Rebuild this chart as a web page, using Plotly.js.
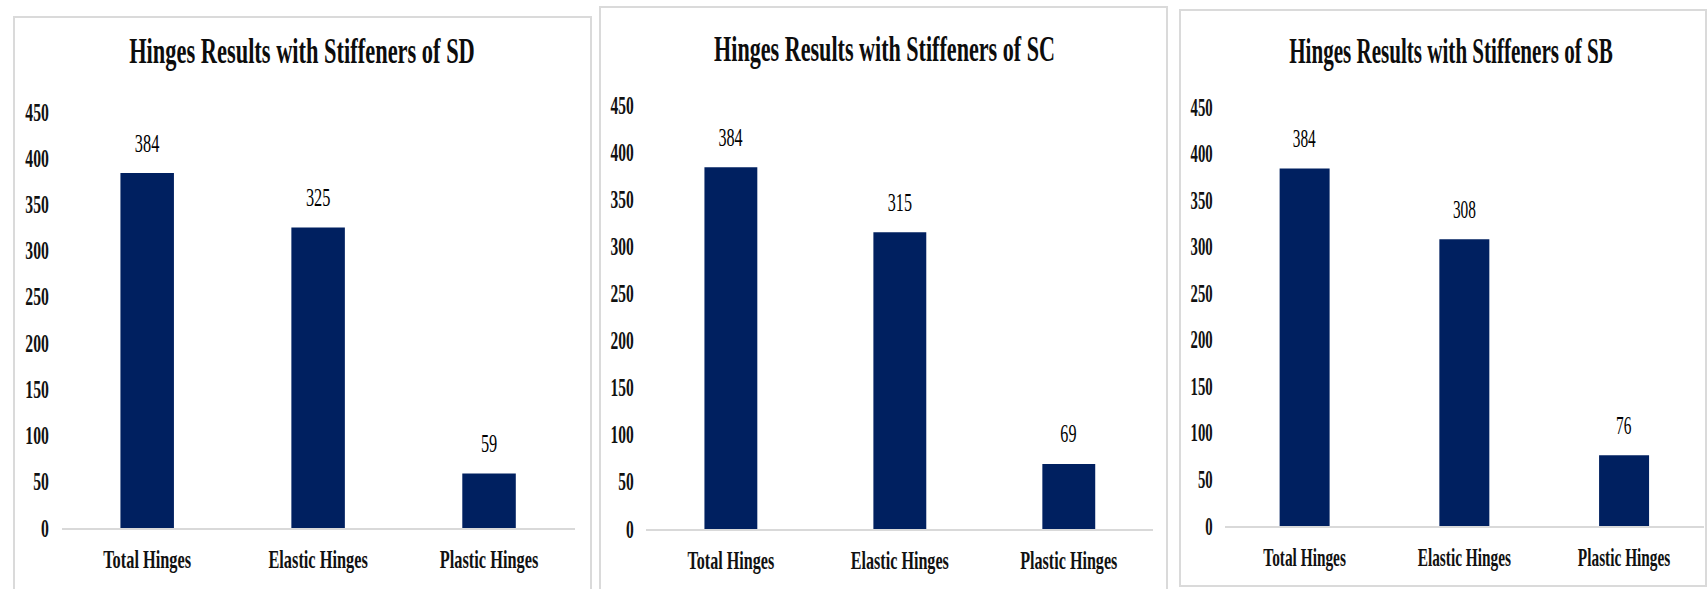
<!DOCTYPE html>
<html>
<head>
<meta charset="utf-8">
<script src="https://cdn.plot.ly/plotly-3.0.1.min.js"></script>
<style>
  html, body { margin: 0; padding: 0; background: #ffffff; overflow: hidden; width: 1707px; height: 589px; }
  .panel { position: absolute; transform-origin: 0 0; }
  .frame { position: absolute; box-sizing: border-box; border: 2px solid #dadada; pointer-events: none; }
</style>
</head>
<body>
<script>
// Hinge counts per stiffener arrangement
const categories = ['Total Hinges', 'Elastic Hinges', 'Plastic Hinges'];
const yTicks = [0, 50, 100, 150, 200, 250, 300, 350, 400, 450];
const sdValues = [384, 325, 59];
const scValues = [384, 315, 69];
const sbValues = [384, 308, 76];
const chartTitles = [
  'Hinges Results with Stiffeners of SD',
  'Hinges Results with Stiffeners of SC',
  'Hinges Results with Stiffeners of SB'
];

// Panel boxes in page pixels; text is drawn narrow, so each chart is
// laid out wider and squeezed horizontally by its own factor.
const panelBoxes = [
  { left: 13,   top: 16, width: 579, height: 590, squeeze: 0.641,
    plotLeft: 48.5, plotRight: 561.5, plotTop: 95.5, plotBottom: 512, titleX: 289, titleY: 35 },
  { left: 599,  top: 6,  width: 569, height: 600, squeeze: 0.632,
    plotLeft: 47.5, plotRight: 554.5, plotTop: 99, plotBottom: 523, titleX: 285.5, titleY: 43 },
  { left: 1179, top: 9,  width: 528, height: 578, squeeze: 0.602,
    plotLeft: 46, plotRight: 525, plotTop: 98, plotBottom: 517, titleX: 272, titleY: 41.5 }
];
const seriesValues = [sdValues, scValues, sbValues];

const serif = 'Liberation Serif, Times New Roman, serif';
const barColor = '#002060';

panelBoxes.forEach(function (box, i) {
  const values = seriesValues[i];
  const innerW = box.width / box.squeeze;

  const div = document.createElement('div');
  div.className = 'panel';
  div.style.left = box.left + 'px';
  div.style.top = box.top + 'px';
  div.style.width = innerW + 'px';
  div.style.height = box.height + 'px';
  div.style.transform = 'scaleX(' + box.squeeze + ')';
  document.body.appendChild(div);

  const frame = document.createElement('div');
  frame.className = 'frame';
  frame.style.left = box.left + 'px';
  frame.style.top = box.top + 'px';
  frame.style.width = box.width + 'px';
  frame.style.height = box.height + 'px';
  document.body.appendChild(frame);

  const trace = {
    type: 'bar',
    x: categories,
    y: values,
    marker: { color: barColor, line: { width: 0 } },
    hoverinfo: 'none'
  };

  const valueLabels = categories.map(function (c, k) {
    return {
      x: c, y: values[k], xref: 'x', yref: 'y',
      text: String(values[k]), showarrow: false,
      yanchor: 'middle', yshift: 30,
      font: { family: serif, size: 25.5, color: '#000000' }
    };
  });

  const layout = {
    width: innerW,
    height: box.height,
    margin: {
      l: box.plotLeft / box.squeeze,
      r: (box.width - box.plotRight) / box.squeeze,
      t: box.plotTop,
      b: box.height - box.plotBottom,
      pad: 0
    },
    paper_bgcolor: '#ffffff',
    plot_bgcolor: '#ffffff',
    showlegend: false,
    bargap: 0.687,
    title: {
      text: '<b>' + chartTitles[i] + '</b>',
      xref: 'container', yref: 'container',
      x: (box.titleX / box.squeeze) / innerW, xanchor: 'center',
      y: 1 - box.titleY / box.height, yanchor: 'middle',
      font: { family: serif, size: 35, color: '#0d0d0d' }
    },
    xaxis: {
      type: 'category',
      showline: true, linecolor: '#d9d9d9', linewidth: 2,
      showgrid: false, zeroline: false, ticks: '',
      tickfont: { family: serif, size: 25.5, color: '#111111', weight: 'bold' },
      ticklabelstandoff: 7,
      automargin: false, fixedrange: true
    },
    yaxis: {
      range: [0, 450],
      tickvals: yTicks,
      ticktext: yTicks.map(String),
      showline: false, showgrid: false, zeroline: false, ticks: '',
      tickfont: { family: serif, size: 24.5, color: '#111111', weight: 'bold' },
      ticklabelstandoff: 19,
      automargin: false, fixedrange: true
    },
    annotations: valueLabels
  };

  Plotly.newPlot(div, [trace], layout, { staticPlot: true, displayModeBar: false });
});
</script>
</body>
</html>
